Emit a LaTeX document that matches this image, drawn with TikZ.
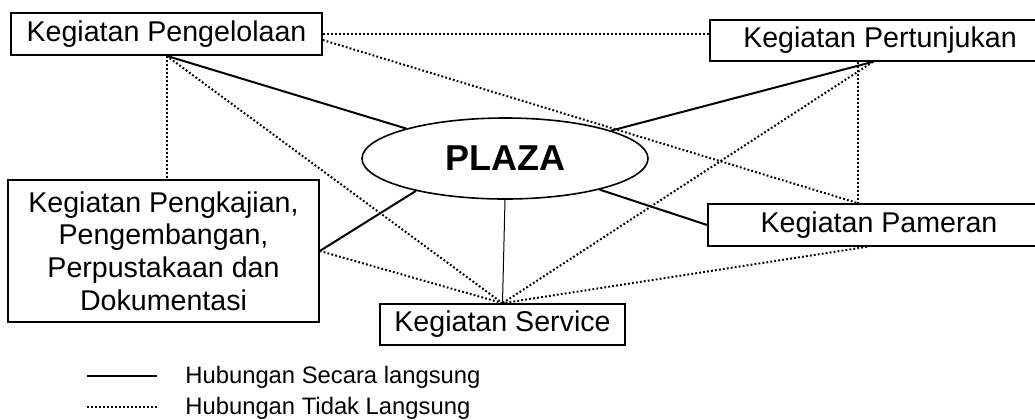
\documentclass[tikz,border=0pt]{standalone}
\usepackage{fontspec}
\setmainfont{Liberation Sans}
\usetikzlibrary{shapes.geometric}
\begin{document}
\begin{tikzpicture}
  [x=0.5pt, y=-0.5pt]
  \tikzstyle{box} = [draw=black, line width=0.8pt, inner sep=0pt, font=\fontsize{14.3}{16.4}\selectfont];
  \tikzstyle{plaza_ellipse} = [ellipse, draw=black, line width=0.8pt, inner sep=0pt, font=\fontsize{18}{20}\selectfont\bfseries];
  \tikzstyle{direct_line} = [line width=1pt];
  \tikzstyle{indirect_line} = [line width=1pt, dash pattern=on 0.9pt off 1.1pt];
  \tikzstyle{legend_text} = [anchor=west, inner sep=0pt, font=\fontsize{11.9}{13}\selectfont];

  \useasboundingbox (0, 0) rectangle (1035, 419);

  \node[box, minimum width=155.5pt, minimum height=21pt] (peng) at (166.5, 34) {Kegiatan Pengelolaan};
  \node[box, minimum width=155.5pt, minimum height=71pt, align=center] (kaji) at (163.5, 251)
    {Kegiatan Pengkajian,\\Pengembangan,\\Perpustakaan dan\\Dokumentasi};
  \node[box, minimum width=170pt, minimum height=20.5pt] (pert) at (880, 40.5) {Kegiatan Pertunjukan};
  \node[box, minimum width=171pt, minimum height=21pt] (pam) at (879, 225) {Kegiatan Pameran};
  \node[box, minimum width=122.5pt, minimum height=20.5pt] (serv) at (502.5, 324.5) {Kegiatan Service};

  \node[plaza_ellipse, minimum width=143pt, minimum height=40.5pt] (plaza) at (505, 158.5) {PLAZA};

  \coordinate (pertbot) at ([xshift=-3.5pt]pert.south);
  \coordinate (pamtop) at ([xshift=-10.5pt]pam.north);
  \coordinate (pambot) at ([xshift=-6pt]pam.south);

  % direct links
  \draw[direct_line] (peng.south) -- (plaza);
  \draw[direct_line] (pertbot) -- (plaza);
  \draw[direct_line] (kaji.east) -- (plaza.200);
  \draw[direct_line] (pam.west) -- (plaza);
  \draw[line width=0.5pt] (plaza.south) -- (serv.north);

  % indirect links
  \draw[indirect_line] (peng.east) -- (peng.east -| pert.west);
  \draw[indirect_line] ([yshift=-3pt]peng.east) -- (pamtop);
  \draw[indirect_line] (peng.south) -- (peng.south |- kaji.north);
  \draw[indirect_line] (peng.south) -- (serv.north);
  \draw[indirect_line] (pertbot) -- (serv.north);
  \draw[indirect_line] (pamtop |- pert.south) -- (pamtop);
  \draw[indirect_line] (kaji.east) -- (serv.north);
  \draw[indirect_line] (pambot) -- (serv.north);

  % legend
  \coordinate (leg_a1) at (87, 376);
  \coordinate (leg_a2) at (157, 376);
  \coordinate (leg_b1) at (87, 407);
  \coordinate (leg_b2) at (157, 407);
  \draw[direct_line] (leg_a1) -- (leg_a2);
  \draw[indirect_line] (leg_b1) -- (leg_b2);
  \node[legend_text] (leg_a) at (185, 377) {Hubungan Secara langsung};
  \node[legend_text] (leg_b) at (185, 408) {Hubungan Tidak Langsung};

\end{tikzpicture}
\end{document}
